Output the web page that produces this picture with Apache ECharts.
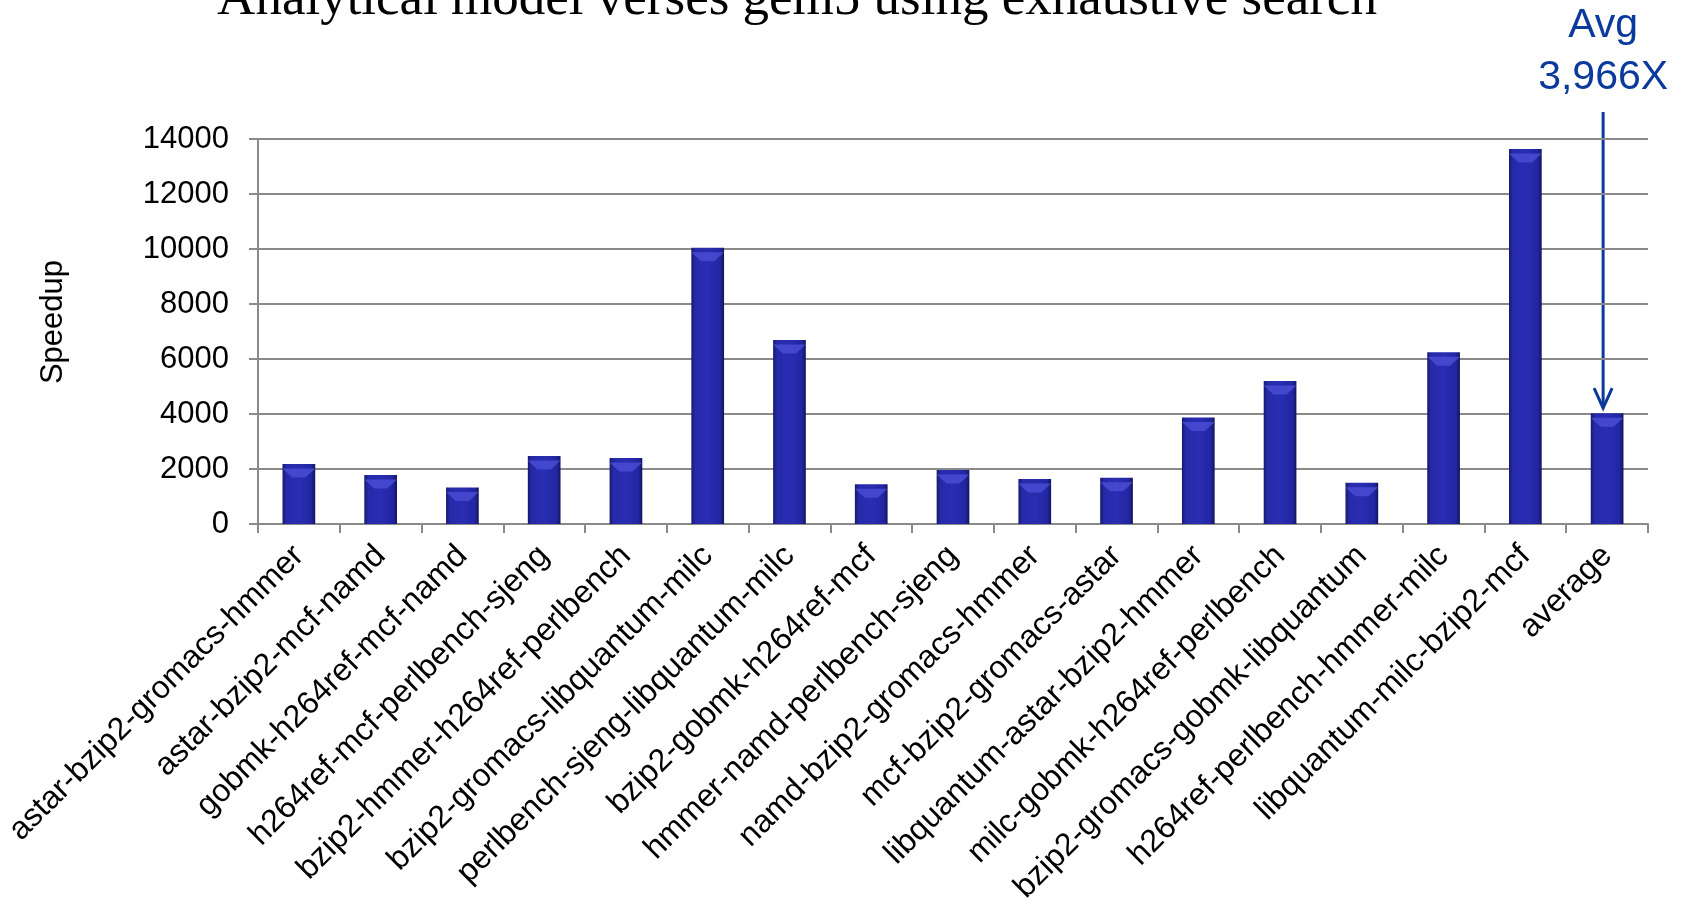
<!DOCTYPE html>
<html>
<head>
<meta charset="utf-8">
<script src="https://cdn.jsdelivr.net/npm/echarts@6/dist/echarts.min.js"></script>
<style>
  html, body { margin: 0; padding: 0; background: #fff; }
  #main { width: 1689px; height: 908px; }
</style>
</head>
<body>
<div id="main"></div>
<script>
const categories = [
  "astar-bzip2-gromacs-hmmer", "astar-bzip2-mcf-namd", "gobmk-h264ref-mcf-namd",
  "h264ref-mcf-perlbench-sjeng", "bzip2-hmmer-h264ref-perlbench", "bzip2-gromacs-libquantum-milc",
  "perlbench-sjeng-libquantum-milc", "bzip2-gobmk-h264ref-mcf", "hmmer-namd-perlbench-sjeng",
  "namd-bzip2-gromacs-hmmer", "mcf-bzip2-gromacs-astar", "libquantum-astar-bzip2-hmmer",
  "milc-gobmk-h264ref-perlbench", "bzip2-gromacs-gobmk-libquantum", "h264ref-perlbench-hmmer-milc",
  "libquantum-milc-bzip2-mcf", "average"
];
const speedup = [2180, 1780, 1330, 2470, 2400, 10050, 6690, 1450, 1960, 1640, 1680, 3870, 5200, 1500, 6250, 13640, 4030];
const avgLabel = ["Avg", "3,966X"];

const blue = "#0b3a9c";
const chart = echarts.init(document.getElementById("main"));

const barColor = {
  type: "linear", x: 0, y: 0, x2: 1, y2: 0,
  colorStops: [
    { offset: 0, color: "#17196e" },
    { offset: 0.12, color: "#262aa8" },
    { offset: 0.5, color: "#292db2" },
    { offset: 0.88, color: "#2226a2" },
    { offset: 1, color: "#13155a" }
  ]
};

const option = {
  animation: false,
  grid: { left: 258, right: 41, top: 139, bottom: 384, containLabel: false },
  xAxis: {
    type: "category",
    data: categories,
    axisLine: { lineStyle: { color: "#8a8a8a", width: 2 } },
    axisTick: { show: true, length: 9, lineStyle: { color: "#8a8a8a", width: 2 } },
    axisLabel: {
      interval: 0, rotate: 45, margin: 27,
      color: "#000", fontSize: 32, fontFamily: "Liberation Sans, Arial"
    }
  },
  yAxis: {
    type: "value",
    min: 0, max: 14000, interval: 2000,
    axisLine: { show: true, lineStyle: { color: "#8a8a8a", width: 2 } },
    axisTick: { show: true, length: 9, lineStyle: { color: "#8a8a8a", width: 2 } },
    splitLine: { lineStyle: { color: "#8a8a8a", width: 2 } },
    axisLabel: {
      margin: 29, color: "#000", fontSize: 31, fontFamily: "Liberation Sans, Arial",
      formatter: (v) => String(v)
    }
  },
  series: [
    {
      type: "bar",
      data: speedup,
      barWidth: "40%",
      itemStyle: {
        color: barColor,
        shadowColor: "rgba(0,0,0,0.35)", shadowBlur: 6, shadowOffsetX: 2, shadowOffsetY: 1
      },
      z: 2
    },
    {
      // light bevel on top of every bar
      type: "pictorialBar",
      data: speedup,
      barWidth: "40%",
      barGap: "-100%",
      symbol: "path://M0,0 L10,0 L7,3 L3,3 Z",
      symbolSize: ["100%", 9],
      symbolPosition: "end",
      symbolOffset: [0, "50%"],
      itemStyle: { color: "#4a4fd6", opacity: 0.8 },
      z: 3
    }
  ],
  graphic: [
    {
      id: "title", type: "text", x: 797, y: 0,
      style: {
        text: "Analytical model verses gem5 using exhaustive search",
        fill: "#000", font: "53px 'Liberation Serif', 'Times New Roman', serif",
        textAlign: "center", textVerticalAlign: "middle"
      }
    },
    {
      id: "yname", type: "text", x: 53, y: 322, rotation: Math.PI / 2,
      style: {
        text: "Speedup", fill: "#000", font: "31px 'Liberation Sans', Arial",
        textAlign: "center", textVerticalAlign: "middle"
      }
    }
  ]
};
chart.setOption(option);

// arrow pointing at the average bar
const last = categories.length - 1;
const tip = chart.convertToPixel({ seriesIndex: 0 }, [last, speedup[last]]);
const ax = tip[0] - 4;
const ay = tip[1] - 5;
chart.setOption({
  graphic: [
    {
      id: "arrowLine", type: "line",
      shape: { x1: ax, y1: 112, x2: ax, y2: ay - 2 },
      style: { stroke: blue, lineWidth: 3 }
    },
    {
      id: "arrowHead", type: "polyline",
      shape: { points: [[ax - 9, ay - 20], [ax, ay], [ax + 9, ay - 20]] },
      style: { stroke: blue, lineWidth: 3, fill: null }
    },
    {
      id: "avg1", type: "text", x: ax, y: 26,
      style: { text: avgLabel[0], fill: blue, font: "41px 'Liberation Sans', Arial", textAlign: "center", textVerticalAlign: "middle" }
    },
    {
      id: "avg2", type: "text", x: ax, y: 78,
      style: { text: avgLabel[1], fill: blue, font: "41px 'Liberation Sans', Arial", textAlign: "center", textVerticalAlign: "middle" }
    }
  ]
});
</script>
</body>
</html>
